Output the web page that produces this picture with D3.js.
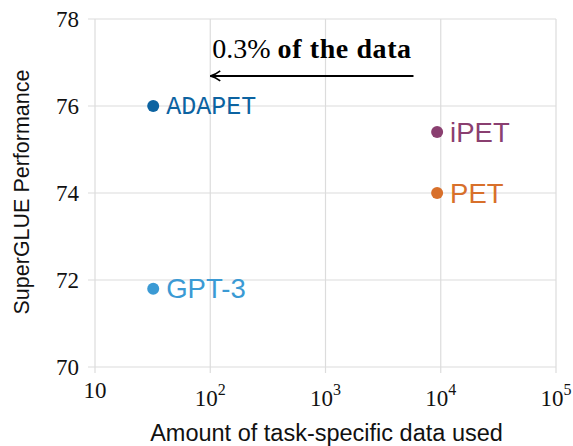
<!DOCTYPE html>
<html>
<head>
<meta charset="utf-8">
<script src="https://cdn.jsdelivr.net/npm/d3@7/dist/d3.min.js"></script>
<style>
  html, body { margin: 0; padding: 0; background: #fff; }
  svg { display: block; }
</style>
</head>
<body>
<svg id="chart" width="573" height="446"></svg>
<script>
// ---- data ----
const models = ["ADAPET", "iPET", "PET", "GPT-3"];
const dataAmount = [32, 9300, 9300, 32];
const performance = [76.0, 75.4, 74.0, 71.8];
const modelColors = ["#0c63a1", "#8a3f70", "#d8702b", "#3b9ad4"];
const modelFonts = ["'Liberation Mono', monospace", "'Liberation Sans', Arial, sans-serif", "'Liberation Sans', Arial, sans-serif", "'Liberation Sans', Arial, sans-serif"];
const xTicks = [10, 100, 1000, 10000, 100000];
const xTickExp = ["", "2", "3", "4", "5"];
const yTicks = [70, 72, 74, 76, 78];
const arrowFrom = [5800, 76.69];
const arrowTo = [100, 76.69];
const xTitle = "Amount of task-specific data used";
const yTitle = "SuperGLUE Performance";

// ---- layout ----
const svg = d3.select("#chart");
const x = d3.scaleLog().domain([10, 100000]).range([95, 556]);
const y = d3.scaleLinear().domain([70, 78]).range([367, 19]);
const serif = "'Liberation Serif', 'Times New Roman', serif";
const sans = "'Liberation Sans', Arial, sans-serif";
const gridColor = "#dcdcdc";

// grid
svg.append("g").selectAll("line").data(xTicks).join("line")
  .attr("x1", d => x(d)).attr("x2", d => x(d))
  .attr("y1", y(78)).attr("y2", y(70) + 6)
  .attr("stroke", gridColor).attr("stroke-width", 1.2);
svg.append("g").selectAll("line").data(yTicks).join("line")
  .attr("x1", x(10) - 7).attr("x2", x(100000))
  .attr("y1", d => y(d)).attr("y2", d => y(d))
  .attr("stroke", gridColor).attr("stroke-width", 1.2);

// y tick labels
svg.append("g").selectAll("text").data(yTicks).join("text")
  .attr("x", 79).attr("y", d => y(d) + 7.5)
  .attr("text-anchor", "end")
  .attr("font-family", serif).attr("font-size", 23).attr("fill", "#111")
  .text(d => d);

// x tick labels
const xl = svg.append("g").selectAll("text").data(xTicks).join("text")
  .attr("x", d => x(d))
  .attr("y", (d, i) => i === 0 ? 398 : 406)
  .attr("text-anchor", "middle")
  .attr("font-family", serif).attr("font-size", 23).attr("fill", "#111");
xl.append("tspan").text("10");
xl.filter((d, i) => i > 0).append("tspan")
  .attr("font-size", 16).attr("dy", -11).text((d, i) => xTickExp[i + 1]);

// axis titles
svg.append("text").attr("x", (x(10) + x(100000)) / 2 + 1).attr("y", 441)
  .attr("text-anchor", "middle").attr("font-family", sans).attr("font-size", 23.5)
  .attr("fill", "#111").text(xTitle);
svg.append("text")
  .attr("transform", `translate(28.5, 192) rotate(-90)`)
  .attr("text-anchor", "middle").attr("font-family", sans).attr("font-size", 21.5)
  .attr("fill", "#111").text(yTitle);

// points
const pts = svg.append("g").selectAll("g").data(models).join("g")
  .attr("transform", (d, i) => `translate(${x(dataAmount[i])},${y(performance[i])})`);
pts.append("circle").attr("r", 6).attr("fill", (d, i) => modelColors[i]);
pts.append("text").attr("x", 13).attr("y", (d, i) => i === 0 ? 8 : 9.5)
  .attr("font-family", (d, i) => modelFonts[i])
  .attr("font-size", (d, i) => i === 0 ? 25 : 27.5)
  .attr("fill", (d, i) => modelColors[i])
  .text(d => d);

// arrow annotation
svg.append("defs").append("marker").attr("id", "ah")
  .attr("viewBox", "0 0 12 12").attr("refX", 11).attr("refY", 6)
  .attr("markerWidth", 12).attr("markerHeight", 12).attr("markerUnits", "userSpaceOnUse")
  .attr("orient", "auto")
  .append("path").attr("d", "M1,1 Q6,5 11,6 Q6,7 1,11").attr("fill", "none")
  .attr("stroke", "#000").attr("stroke-width", 1.6);
svg.append("line")
  .attr("x1", x(arrowFrom[0])).attr("y1", y(arrowFrom[1]))
  .attr("x2", x(arrowTo[0])).attr("y2", y(arrowTo[1]))
  .attr("stroke", "#000").attr("stroke-width", 1.8)
  .attr("marker-end", "url(#ah)");
const ann = svg.append("text").attr("x", x(arrowTo[0]) + 2).attr("y", 58)
  .attr("font-family", serif).attr("font-size", 28).attr("fill", "#000");
ann.append("tspan").text("0.3% ");
ann.append("tspan").attr("font-weight", "bold").attr("letter-spacing", 0.6).text("of the data");
</script>
</body>
</html>
